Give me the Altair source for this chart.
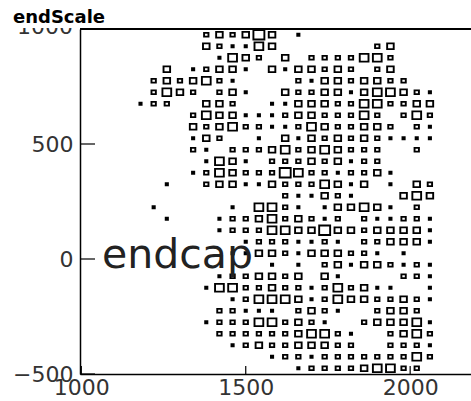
import altair as alt
import pandas as pd

# ---- histogram definition (TH2 drawn with the BOX option) ----
x_first_edge = 1000
x_bin_width = 40
y_first_edge = -500
y_bin_width = 50
content_full = 6  # content at which a box would fill its whole cell

# bin contents, top row first (y from 950..1000 down to -500..-450); '.' = empty
# each row covers x bins k = 0..29
cell_rows = [
    ".........2" "32353.1..." "..........",
    ".........3" "21143....." "..23......",
    ".........." "1432.3.222" "2442......",
    "......3.12" "331.313323" "2.23......",
    ".....23234" "21....2133" "23322.....",
    ".....2432." "231..32233" "1344321...",
    "....122..3" "32..113332" "2442233...",
    "........24" "3311123322" "242.242...",
    "........32" "3422112432" "2332.21...",
    "........13" "2..1.31323" "2321111...",
    "........21" ".222342343" "222..2....",
    ".........1" "431.222323" "122.......",
    "........12" "4322254221" "2231......",
    "......1..2" "3311322243" "13.1.32...",
    ".........." ".....21132" "1...343...",
    ".....1...." ".1.4421.13" "3431.2....",
    "......1..." "1223423212" ".211221...",
    ".........." "1222443353" "3233331...",
    ".........." "..12221121" ".223331...",
    ".........." ".113321333" "221.1.....",
    ".........." "....1.1.23" "1332121...",
    ".........." "1223323.31" "....221...",
    ".........1" "4422322124" "2311..1...",
    ".........." ".124443124" "3322321...",
    ".........." "22111.2321" "..2332....",
    ".........1" "222442321." ".233341...",
    ".........." "2222223442" "1..2342...",
    ".........." ".123223332" "2..2221...",
    ".........." "....122122" "2222242...",
    ".........." "......1222" "234422....",
]

x_domain = [996, 2185]
y_domain = [-500, 1000]
x_ticks = [1000, 1500, 2000]
y_ticks = [-500, 0, 500, 1000]
y_top_label = [1000]  # drawn under the title box, so only its lower half shows

title_text = "endScale"
note_text = ["endcap"]
note_x = [1063]
note_y = [-37]

# ---- build tables ----
records = []
n_rows = len(cell_rows)
for i, row in enumerate(cell_rows):
    j = n_rows - 1 - i
    for k, ch in enumerate(row):
        if ch != ".":
            records.append({
                "xc": x_first_edge + (k + 0.5) * x_bin_width,
                "yc": y_first_edge + (j + 0.5) * y_bin_width,
                "content": int(ch),
            })
cells = pd.DataFrame(records)
xt = pd.DataFrame({"v": x_ticks})
yt = pd.DataFrame({"v": y_ticks})
ytop = pd.DataFrame({"v": y_top_label})
note = pd.DataFrame({"t": note_text, "x": note_x, "y": note_y})
one = pd.DataFrame({"a": [0]})

W, H = 391, 345
xs = alt.Scale(domain=x_domain, nice=False, zero=False)
ys = alt.Scale(domain=y_domain, nice=False, zero=False)

label_font = "DejaVu Sans"
label_size = 22
label_color = "#333"

x_axis = alt.Axis(
    values=x_ticks, format="d", title=None, ticks=False, grid=False,
    labelFont=label_font, labelFontSize=label_size, labelColor=label_color,
    labelPadding=3, labelFlush=False, labelOverlap=False,
    domainColor="black", domainWidth=1.5)
y_axis = alt.Axis(
    values=y_ticks, format="d", title=None, ticks=False, grid=False,
    labelExpr="datum.value >= 1000 ? '' : datum.label",
    labelFont=label_font, labelFontSize=label_size, labelColor=label_color,
    labelPadding=7, labelFlush=False, labelOverlap=False,
    domainColor="black", domainWidth=1.5)

boxes = alt.Chart(cells).transform_calculate(
    f=f"datum.content / {content_full}"
).transform_calculate(
    bx1=f"datum.xc - datum.f * {x_bin_width} / 2",
    bx2=f"datum.xc + datum.f * {x_bin_width} / 2",
    by1=f"datum.yc - datum.f * {y_bin_width} / 2",
    by2=f"datum.yc + datum.f * {y_bin_width} / 2",
).mark_rect(fillOpacity=0, stroke="black", strokeWidth=1.9).encode(
    x=alt.X("bx1:Q", scale=xs, axis=x_axis),
    x2="bx2:Q",
    y=alt.Y("by1:Q", scale=ys, axis=y_axis),
    y2="by2:Q",
)

xtick_marks = alt.Chart(xt).mark_rule(color="black", strokeWidth=1.2).encode(
    x=alt.X("v:Q", scale=xs, axis=x_axis),
    y=alt.value(H),
    y2=alt.value(H - 8),
)
ytick_marks = alt.Chart(yt).mark_rule(color="black", strokeWidth=1.2).encode(
    y=alt.Y("v:Q", scale=ys, axis=y_axis),
    x=alt.value(0),
    x2=alt.value(15),
)
top_label = alt.Chart(ytop).mark_text(
    align="right", baseline="middle", font=label_font, fontSize=label_size,
    color=label_color, dx=-7, dy=-2
).encode(
    y=alt.Y("v:Q", scale=ys, axis=y_axis),
    x=alt.value(0),
    text=alt.Text("v:Q", format="d"),
)
top_frame = alt.Chart(one).mark_rule(color="black", strokeWidth=2).encode(
    x=alt.value(0), x2=alt.value(W), y=alt.value(0)
)
mask = alt.Chart(one).mark_rect(fill="white", fillOpacity=1).encode(
    x=alt.value(-80), x2=alt.value(-1), y=alt.value(-29), y2=alt.value(-1)
)
title = alt.Chart(one).mark_text(
    text=title_text, align="left", baseline="alphabetic",
    font=label_font, fontSize=18, fontWeight="bold", color="black"
).encode(x=alt.value(-67), y=alt.value(-6))
note_mark = alt.Chart(note).mark_text(
    align="left", baseline="alphabetic", font=label_font, fontSize=41, color="#222"
).encode(
    x=alt.X("x:Q", scale=xs, axis=x_axis),
    y=alt.Y("y:Q", scale=ys, axis=y_axis),
    text="t:N",
)

chart = alt.layer(
    boxes, xtick_marks, ytick_marks, top_frame, note_mark, top_label, mask, title
).properties(
    width=W, height=H,
    padding={"left": 80, "top": 29, "right": 0, "bottom": 27},
    autosize=alt.AutoSizeParams(type="none"),
    background="white",
).configure_view(stroke="transparent")

chart.save("out.html", embed_options={"renderer": "svg", "actions": False})
